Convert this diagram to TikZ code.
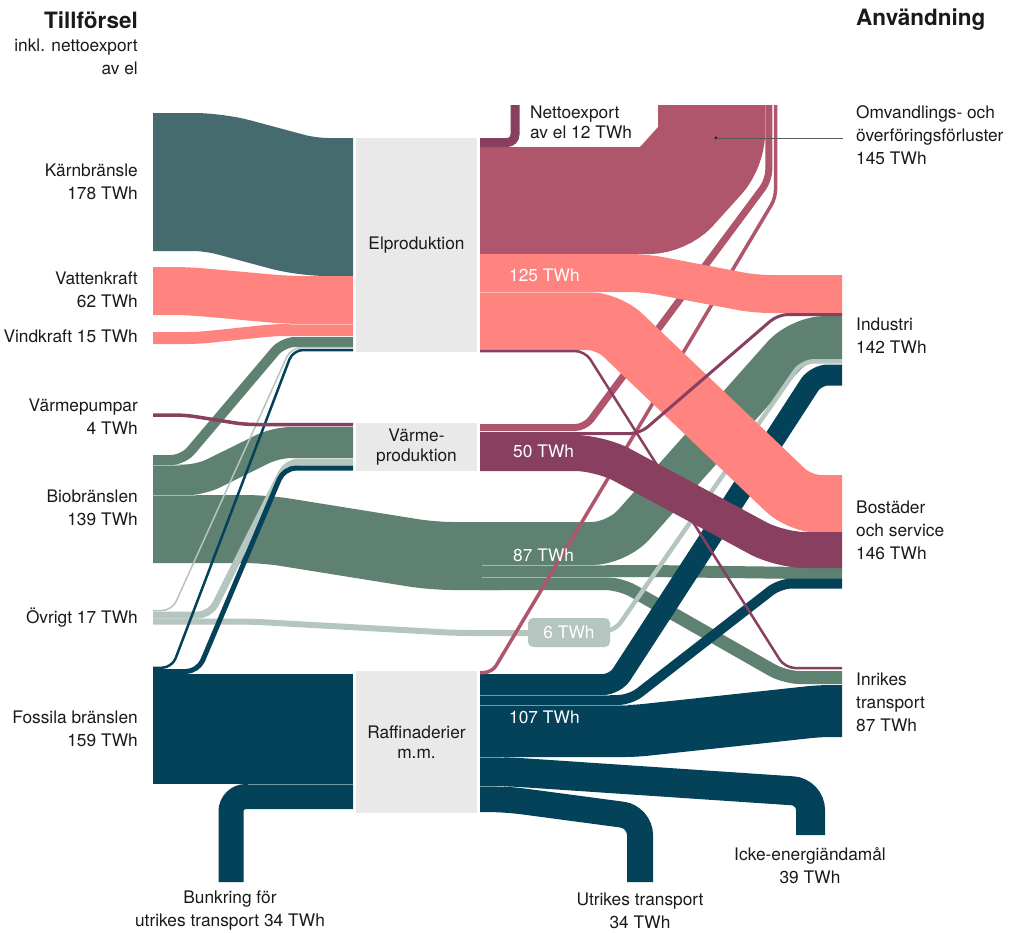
\documentclass[tikz,border=0pt]{standalone}
\usepackage{fontspec}
\setmainfont{TeX Gyre Heros}
\definecolor{kern}{HTML}{456B6F}
\definecolor{el}{HTML}{FF837F}
\definecolor{bio}{HTML}{5F8171}
\definecolor{ovr}{HTML}{B5C5BF}
\definecolor{foss}{HTML}{04425A}
\definecolor{loss}{HTML}{AF556C}
\definecolor{heat}{HTML}{883F60}
\definecolor{boxg}{HTML}{E9E9E9}
\definecolor{txt}{HTML}{1A1A1A}
\tikzset{
 flow/.style={line cap=butt, line join=miter, rounded corners=#1},
 flow/.default=15,
 sep/.style={white, opacity=0.45, line width=0.8},
 lab/.style={font=\fontsize{17.3}{23}\selectfont, text=txt, inner sep=0pt},
 llab/.style={lab, anchor=east, align=right},
 rlab/.style={lab, anchor=west, align=left},
 clab/.style={lab, align=center},
 head/.style={font=\fontsize{22.5}{26}\selectfont\bfseries, text=txt, inner sep=0pt},
 inlab/.style={font=\fontsize{17.3}{20}\selectfont, text=white, inner sep=0pt, anchor=west},
 procbox/.style={fill=boxg, draw=none, inner sep=0pt, font=\fontsize{17.3}{20.5}\selectfont, text=txt, align=center, minimum width=121pt},
}
\begin{document}
\begin{tikzpicture}[x=1pt,y=-1pt]
\useasboundingbox (0,0) rectangle (1011,932);
\fill[white] (0,0) rectangle (1011,932);

% ---- supply, left
\draw[flow=20, line width=138, kern] (153,182) -- (214,182) -- (307,207) -- (353,207);
\draw[flow=15, line width=48, el] (153,291) -- (188,291) -- (288,300) -- (353,300);
\draw[flow=12, line width=12, el] (153,338) -- (198,338) -- (275,330) -- (353,330);
\draw[sep] (290,324) -- (353,324);

% ---- biofuels
\draw[flow=12, line width=10, bio] (153,460) -- (183,460) -- (283,342) -- (353,342);
\draw[flow=15, line width=31, bio] (153,480) -- (200,480) -- (276,442.5) -- (353,442.5);
\draw[flow=20, line width=68, bio] (153,529) -- (265,529) -- (433,556) -- (500,556);
\draw[flow=25, line width=43, bio] (480,543.5) -- (617,543.5) -- (800,337.5) -- (842,337.5);
\draw[flow=15, line width=12, bio] (480,571) -- (650,571) -- (842,573.5);
\draw[flow=15, line width=13, bio] (480,583.5) -- (620,583.5) -- (785,677.5) -- (842,677.5);
\draw[sep] (153,465) -- (180,465);
\draw[sep] (153,495) -- (196,495);
\draw[sep] (482,565) -- (606,565);
\draw[sep] (482,577) -- (614,577);

% ---- other
\draw[flow=10, line width=1.5, ovr] (153,610.5) -- (172,610.5) -- (291,347.7) -- (353,347.7);
\draw[flow=12, line width=7, ovr] (153,615) -- (210,615) -- (287,462) -- (353,462);
\draw[flow=15, line width=6, ovr] (153,621.5) -- (250,621.5) -- (457,633) -- (540,633);
\draw[flow=12, line width=4.5, ovr] (590,632) -- (614,632) -- (802,361.25) -- (842,361.25);
\node[fill=ovr, rounded corners=5pt, minimum width=82pt, minimum height=29pt, inner sep=0pt,
      text=white, font=\fontsize{17.3}{20}\selectfont] (six) at (569,632.5) {6 TWh};

% ---- fossil
\draw[line width=110, foss] (153,729) -- (353,729);
\draw[flow=10, line width=2.5, foss] (153,667.75) -- (172,667.75) -- (293,350) -- (353,350);
\draw[flow=12, line width=5, foss] (153,671.5) -- (198,671.5) -- (284,468) -- (353,468);
\draw[flow=15, line width=25, foss] (353,796.5) -- (231,796.5) -- (231,882);
\draw[flow=12, line width=21, foss] (480,684.5) -- (615,684.5) -- (816,375) -- (842,375);
\draw[flow=12, line width=10, foss] (480,700) -- (630,700) -- (780,583.5) -- (842,583.5);
\draw[flow=10, line width=52, foss] (480,731) -- (635,731) -- (820,711) -- (842,711);
\draw[flow=18, line width=29, foss] (480,771.5) -- (505,771.5) -- (810.5,792) -- (810.5,835);
\draw[flow=18, line width=26, foss] (480,799) -- (505,799) -- (640,817) -- (640,882);
\draw[sep] (248,784) -- (353,784);
\draw[sep] (480,695) -- (610,695);
\draw[sep] (480,705) -- (628,705);
\draw[sep] (480,757) -- (504,757);
\draw[sep] (480,786) -- (504,786);

% ---- losses
\draw[flow=15, line width=107, loss] (480,200.5) -- (663.8,200.5) -- (711.6,147.5) -- (711.6,105);
\draw[flow=10, line width=7, loss] (480,427.5) -- (585,427.5) -- (768.75,180) -- (768.75,105);
\draw[flow=8, line width=3.5, loss] (480,672.5) -- (492,672.5) -- (775.5,198) -- (775.5,105);

% ---- electricity
\draw[flow=15, line width=38, el] (480,273) -- (645,273) -- (755,294) -- (842,294);
\draw[flow=20, line width=58, el] (480,321) -- (608,321) -- (800,504) -- (842,504);
\draw[sep] (480,292) -- (598,292);

% ---- heat
\draw[flow=8, line width=9, heat] (480,142.5) -- (515,142.5) -- (515,105);
\draw[flow=25, line width=36, heat] (480,453) -- (600,453) -- (780,550) -- (842,550);
\draw[flow=10, line width=3.5, heat] (153,415) -- (185,415) -- (245,424.5) -- (353,424.5);
\draw[flow=10, line width=3, heat] (480,433.5) -- (640,433.5) -- (778,314.5) -- (842,314.5);
\draw[flow=10, line width=2.5, heat] (480,351) -- (585,351) -- (785,668) -- (842,668);

% ---- process boxes
\node[procbox, minimum height=214pt] (elp) at (416.5,245) {Elproduktion};
\node[procbox, minimum height=48pt] (varme) at (416.5,447) {Värme-\\produktion};
\node[procbox, minimum height=142pt] (raff) at (416.5,742) {Raffinaderier\\m.m.};

% ---- in-band labels
\node[inlab] (t125) at (509,275) {125 TWh};
\node[inlab] (t50) at (513,451) {50 TWh};
\node[inlab] (t87) at (513,555) {87 TWh};
\node[inlab] (t107) at (509,717) {107 TWh};

% ---- leader
\coordinate (lossdot) at (716,138);
\coordinate (leadend) at (843,138);
\fill[txt] (lossdot) circle (1.6);
\draw[black!65, line width=0.9] (lossdot) -- (leadend);

% ---- headings and labels
\node[head, anchor=east] (tt) at (138,20) {Tillförsel};
\node[llab] (ti) at (138,56.5) {inkl. nettoexport\\av el};
\node[head, anchor=west] (ta) at (856,20) {Användning};
\node[llab] (lk) at (138,181.5) {Kärnbränsle\\178 TWh};
\node[llab] (lv) at (138,289.5) {Vattenkraft\\62 TWh};
\node[llab] (lw) at (138,336.5) {Vindkraft 15 TWh};
\node[llab] (lp) at (138,416.5) {Värmepumpar\\4 TWh};
\node[llab] (lb) at (138,507.5) {Biobränslen\\139 TWh};
\node[llab] (lo) at (138,618) {Övrigt 17 TWh};
\node[llab] (lf) at (138,728.5) {Fossila bränslen\\159 TWh};
\node[rlab] (ro) at (856,135.5) {Omvandlings- och\\överföringsförluster\\145 TWh};
\node[rlab] (ri) at (856,335.5) {Industri\\142 TWh};
\node[rlab] (rb) at (856,530.5) {Bostäder\\och service\\146 TWh};
\node[rlab] (rt) at (856,702) {Inrikes\\transport\\87 TWh};
\node[clab] (bb) at (230,910.5) {Bunkring för\\utrikes transport 34 TWh};
\node[clab] (bu) at (640,911) {Utrikes transport\\34 TWh};
\node[clab] (bi) at (810,866) {Icke-energiändamål\\39 TWh};
\node[lab, anchor=west, align=left, font=\fontsize{17.3}{20}\selectfont] (ne) at (530,122) {Nettoexport\\av el 12 TWh};
\end{tikzpicture}
\end{document}
